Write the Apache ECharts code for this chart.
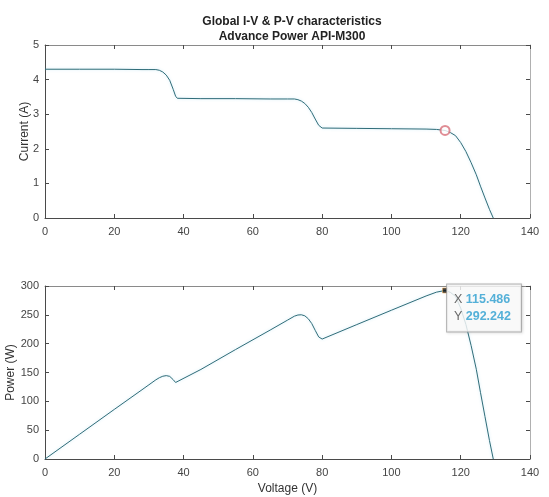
<!DOCTYPE html>
<html>
<head>
<meta charset="utf-8">
<script src="https://cdn.jsdelivr.net/npm/echarts@6/dist/echarts.min.js"></script>
<style>
  html, body { margin: 0; padding: 0; background: #fff; }
  #ivChart { width: 549px; height: 497px; }
</style>
</head>
<body>
<div id="ivChart"></div>
<script>
// values
const voltage = [0, 10, 20, 28, 30, 32, 33, 34, 35, 36, 37, 37.7, 38.2, 45, 55, 65, 70, 72, 73, 74,
  75, 76, 77, 78, 79, 80, 80.5, 90, 100, 110, 113, 115.486, 117, 118.5, 120, 121.5, 123, 124.5, 125.7, 127,
  128.3, 129.4];
const current = [4.30, 4.30, 4.30, 4.29, 4.29, 4.29, 4.27, 4.22, 4.13, 3.98, 3.72, 3.52, 3.46, 3.45, 3.45, 3.44, 3.44, 3.44, 3.42, 3.38,
  3.31, 3.20, 3.05, 2.86, 2.68, 2.60, 2.59, 2.59, 2.58, 2.57, 2.56, 2.53, 2.47, 2.38, 2.18, 1.92, 1.60, 1.25, 0.92, 0.58,
  0.25, 0];
const power = [0, 43.0, 86.0, 120.1, 128.7, 137.3, 140.9, 143.5, 144.6, 143.3, 137.6, 132.7, 132.2, 155.3, 189.8, 223.6, 240.8, 247.7, 249.7, 250.1,
  248.3, 243.2, 234.9, 223.1, 211.7, 208.0, 208.5, 233.1, 258.0, 282.7, 289.3, 292.242, 289.0, 282.0, 261.6, 233.3, 196.8, 155.6, 115.6, 73.7,
  32.1, 0];
const mppVoltage = 115.486;
const mppCurrent = 2.53;
const mppPower = 292.242;

const FONT = 'Liberation Sans';
const lineColor = '#2f6c78';

function pairs(xs, ys) {
  return xs.map((x, i) => [x, ys[i]]);
}

function xAxisFor(gridIndex, position, withLabels, name) {
  return {
    type: 'value',
    gridIndex,
    position,
    min: 0,
    max: 140,
    interval: 20,
    name: name || '',
    nameLocation: 'middle',
    nameGap: 24,
    nameMoveOverlap: false,
    nameTextStyle: { fontFamily: FONT, fontSize: 12, color: '#333' },
    axisLine: { show: true, onZero: false, lineStyle: { color: position === 'bottom' ? '#4a4a4a' : '#8a8a8a', width: 1 } },
    axisTick: { show: true, inside: true, length: 4, lineStyle: { color: '#4a4a4a' } },
    axisLabel: { show: withLabels, fontFamily: FONT, fontSize: 11, color: '#444', margin: 8 },
    splitLine: { show: false },
  };
}

function yAxisFor(gridIndex, position, max, interval, name, nameGap) {
  const left = position === 'left';
  return {
    type: 'value',
    gridIndex,
    position,
    min: 0,
    max,
    interval,
    name: left ? name : '',
    nameLocation: 'middle',
    nameGap,
    nameMoveOverlap: false,
    nameTextStyle: { fontFamily: FONT, fontSize: 12, color: '#333' },
    axisLine: { show: true, onZero: false, lineStyle: { color: left ? '#4a4a4a' : '#b0b0b0', width: 1 } },
    axisTick: { show: true, inside: true, length: 4, lineStyle: { color: '#4a4a4a' } },
    axisLabel: { show: left, fontFamily: FONT, fontSize: 11, color: '#444', margin: 6 },
    splitLine: { show: false },
  };
}

const lineStyle = {
  color: lineColor,
  width: 1,
  shadowColor: 'rgba(130, 205, 235, 0.45)',
  shadowBlur: 3,
};

const chart = echarts.init(document.getElementById('ivChart'), null, { renderer: 'canvas' });
const option = {
  animation: false,
  backgroundColor: '#fff',
  title: {
    text: 'Global I-V & P-V characteristics\nAdvance Power API-M300',
    left: 287,
    top: 9,
    textAlign: 'center',
    textStyle: { fontFamily: FONT, fontSize: 12, fontWeight: 'bold', color: '#222', lineHeight: 15 },
  },
  grid: [
    { left: 45, top: 45, width: 485, height: 173, outerBoundsMode: 'none', containLabel: false },
    { left: 45, top: 286, width: 485, height: 173, outerBoundsMode: 'none', containLabel: false },
  ],
  xAxis: [
    xAxisFor(0, 'bottom', true),
    xAxisFor(0, 'top', false),
    xAxisFor(1, 'bottom', true, 'Voltage (V)'),
    xAxisFor(1, 'top', false),
  ],
  yAxis: [
    yAxisFor(0, 'left', 5, 1, 'Current (A)', 14),
    yAxisFor(0, 'right', 5, 1),
    yAxisFor(1, 'left', 300, 50, 'Power (W)', 28),
    yAxisFor(1, 'right', 300, 50),
  ],
  series: [
    {
      name: 'I-V',
      type: 'line',
      xAxisIndex: 0,
      yAxisIndex: 0,
      data: pairs(voltage, current),
      showSymbol: false,
      smooth: false,
      lineStyle,
    },
    {
      name: 'MPP current',
      type: 'scatter',
      xAxisIndex: 0,
      yAxisIndex: 0,
      data: [[mppVoltage, mppCurrent]],
      symbol: 'emptyCircle',
      symbolSize: 9,
      itemStyle: { color: '#d8707a', borderColor: '#d8707a', borderWidth: 1 },
      z: 5,
    },
    {
      name: 'P-V',
      type: 'line',
      xAxisIndex: 2,
      yAxisIndex: 2,
      data: pairs(voltage, power),
      showSymbol: false,
      smooth: false,
      lineStyle,
    },
    {
      name: 'MPP power',
      type: 'scatter',
      xAxisIndex: 2,
      yAxisIndex: 2,
      data: [[mppVoltage, mppPower]],
      symbol: 'rect',
      symbolSize: 5,
      itemStyle: { color: '#111', borderColor: 'rgba(240, 170, 80, 0.7)', borderWidth: 1 },
      z: 6,
      label: {
        show: true,
        position: [5, -3],
        align: 'left',
        verticalAlign: 'top',
        backgroundColor: '#fff',
        borderColor: '#a8a8a8',
        borderWidth: 1,
        padding: [7, 10, 6, 7],
        shadowColor: 'rgba(0,0,0,0.15)',
        shadowBlur: 3,
        shadowOffsetX: 1,
        shadowOffsetY: 1,
        formatter: () => `{k|X} {v|${mppVoltage}}\n{k|Y} {v|${mppPower}}`,
        rich: {
          k: { fontFamily: FONT, fontSize: 12.5, color: '#444', lineHeight: 17 },
          v: { fontFamily: FONT, fontSize: 12.5, fontWeight: 'bold', color: '#2a9dd0', lineHeight: 17 },
        },
      },
    },
  ],
};
chart.setOption(option);
window.addEventListener('resize', () => {
  chart.resize();
});
</script>
</body>
</html>
